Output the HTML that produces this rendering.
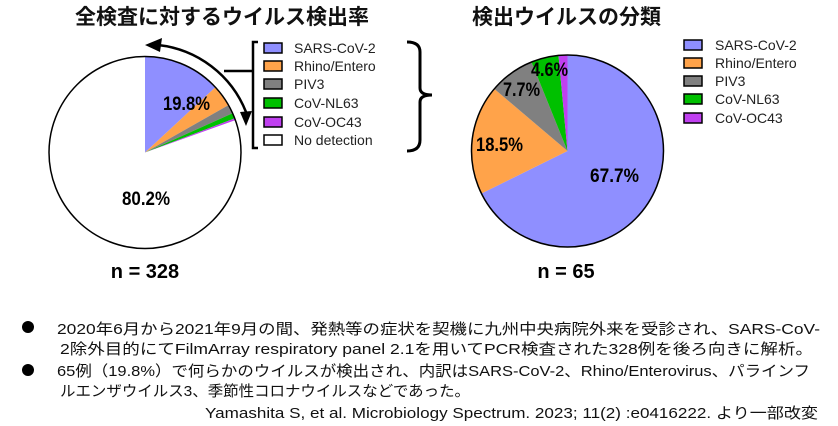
<!DOCTYPE html>
<html><head><meta charset="utf-8"><style>
html,body{margin:0;padding:0;background:#fff;}
svg{display:block;}
</style></head><body>
<svg width="838" height="426" viewBox="0 0 838 426" xmlns="http://www.w3.org/2000/svg" font-family="'Liberation Sans','Noto Sans CJK JP',sans-serif">
<text x="222" y="24" text-anchor="middle" font-size="21" font-weight="bold" font-family="'Noto Sans CJK JP',sans-serif" fill="#111">全検査に対するウイルス検出率</text>
<text x="472" y="24" font-size="21" font-weight="bold" font-family="'Noto Sans CJK JP',sans-serif" fill="#111">検出ウイルスの分類</text>

<g stroke-width="0">
<path d="M145,152.5 L145,56.5 A96,96 0 0 1 215.4,87.3 Z" fill="#8f8fff"/>
<path d="M145,152.5 L215.4,87.3 A96,96 0 0 1 228.5,105.1 Z" fill="#ffa34a"/>
<path d="M145,152.5 L228.5,105.1 A96,96 0 0 1 232.6,113.3 Z" fill="#808080"/>
<path d="M145,152.5 L232.6,113.3 A96,96 0 0 1 234.7,118.4 Z" fill="#00c000"/>
<path d="M145,152.5 L234.7,118.4 A96,96 0 0 1 235.4,120.1 Z" fill="#c040f0"/>
</g>
<circle cx="145" cy="152.5" r="96" fill="none" stroke="#000" stroke-width="1.5"/>
<g font-size="19" font-weight="bold">
<text x="163" y="110" textLength="47" lengthAdjust="spacingAndGlyphs">19.8%</text>
<text x="122" y="205" textLength="48" lengthAdjust="spacingAndGlyphs">80.2%</text>
</g>

<path d="M158,45 A107,107 0 0 1 246,112" fill="none" stroke="#000" stroke-width="2.5"/>
<polygon points="145,45 162,38 160,52" fill="#000"/>
<polygon points="240,112 252,111 246,126" fill="#000"/>

<path d="M258,42 L253,42 L253,148 L258,148" fill="none" stroke="#000" stroke-width="2.5"/>
<line x1="224" y1="71" x2="253" y2="71" stroke="#000" stroke-width="2.5"/>
<g stroke="#000" stroke-width="1.5">
<rect x="264" y="43" width="18" height="10" fill="#8f8fff"/>
<rect x="264" y="61" width="18" height="10" fill="#ffa34a"/>
<rect x="264" y="79" width="18" height="10" fill="#808080"/>
<rect x="264" y="98" width="18" height="10" fill="#00c000"/>
<rect x="264" y="117" width="18" height="10" fill="#c040f0"/>
<rect x="264" y="135" width="18" height="10" fill="#fff"/>
</g>
<g font-size="14" fill="#222">
<text x="294" y="53">SARS-CoV-2</text>
<text x="294" y="71">Rhino/Entero</text>
<text x="294" y="89">PIV3</text>
<text x="294" y="108">CoV-NL63</text>
<text x="294" y="127">CoV-OC43</text>
<text x="294" y="145">No detection</text>
</g>
<path d="M407,42 Q420,42 420,52 L420,88 Q420,95 432,95 Q420,95 420,102 L420,140 Q420,151 407,151" fill="none" stroke="#000" stroke-width="3"/>

<path d="M567.5,151 L567.5,55 A96,96 0 1 1 481.4,193.5 Z" fill="#8f8fff"/>
<path d="M567.5,151 L481.4,193.5 A96,96 0 0 1 494.3,88.9 Z" fill="#ffa34a"/>
<path d="M567.5,151 L494.3,88.9 A96,96 0 0 1 531.5,62 Z" fill="#808080"/>
<path d="M567.5,151 L531.5,62 A96,96 0 0 1 558.5,55.4 Z" fill="#00c000"/>
<path d="M567.5,151 L558.5,55.4 A96,96 0 0 1 567.5,55 Z" fill="#c040f0"/>
<circle cx="567.5" cy="151" r="96" fill="none" stroke="#000" stroke-width="1.5"/>
<g font-size="19" font-weight="bold">
<text x="590" y="182" textLength="49" lengthAdjust="spacingAndGlyphs">67.7%</text>
<text x="476" y="151" textLength="47" lengthAdjust="spacingAndGlyphs">18.5%</text>
<text x="503" y="96" textLength="37" lengthAdjust="spacingAndGlyphs">7.7%</text>
<text x="531" y="76" textLength="37" lengthAdjust="spacingAndGlyphs">4.6%</text>
</g>
<g stroke="#000" stroke-width="1.5">
<rect x="684" y="40" width="18" height="10" fill="#8f8fff"/>
<rect x="684" y="58" width="18" height="10" fill="#ffa34a"/>
<rect x="684" y="76" width="18" height="10" fill="#808080"/>
<rect x="684" y="94" width="18" height="10" fill="#00c000"/>
<rect x="684" y="113" width="18" height="10" fill="#c040f0"/>
</g>
<g font-size="14" fill="#222">
<text x="715" y="50">SARS-CoV-2</text>
<text x="715" y="68">Rhino/Entero</text>
<text x="715" y="86">PIV3</text>
<text x="715" y="104">CoV-NL63</text>
<text x="715" y="123">CoV-OC43</text>
</g>

<text x="145" y="278" text-anchor="middle" font-size="20" font-weight="bold">n = 328</text>
<text x="566" y="278" text-anchor="middle" font-size="20" font-weight="bold">n = 65</text>

<circle cx="28" cy="327" r="6" fill="#000"/>
<circle cx="28" cy="370" r="6" fill="#000"/>
<g font-size="15" fill="#111">
<text x="57" y="334" textLength="763" lengthAdjust="spacingAndGlyphs">2020年6月から2021年9月の間、発熱等の症状を契機に九州中央病院外来を受診され、SARS-CoV-</text>
<text x="60" y="354" textLength="753" lengthAdjust="spacingAndGlyphs">2除外目的にてFilmArray respiratory panel 2.1を用いてPCR検査された328例を後ろ向きに解析。</text>
<text x="57" y="376" textLength="753" lengthAdjust="spacingAndGlyphs">65例（19.8%）で何らかのウイルスが検出され、内訳はSARS-CoV-2、Rhino/Enterovirus、パラインフ</text>
<text x="60" y="396" textLength="410" lengthAdjust="spacingAndGlyphs">ルエンザウイルス3、季節性コロナウイルスなどであった。</text>
<text x="205" y="418" textLength="613" lengthAdjust="spacingAndGlyphs">Yamashita S, et al. Microbiology Spectrum. 2023; 11(2) :e0416222. より一部改変</text>
</g>
</svg>
</body></html>
